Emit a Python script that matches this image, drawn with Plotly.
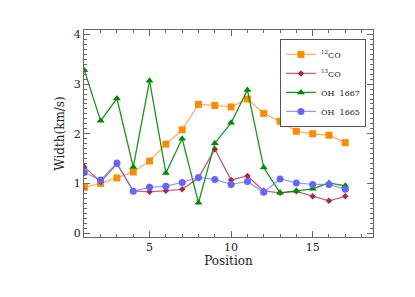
import plotly.graph_objects as go

positions = list(range(1, 18))
co12 = [0.92, 1.00, 1.11, 1.23, 1.45, 1.79, 2.08, 2.59, 2.57, 2.54, 2.70, 2.41, 2.25, 2.05, 2.00, 1.97, 1.82]
co13 = [1.33, 1.03, 1.39, 0.85, 0.83, 0.85, 0.88, 1.11, 1.69, 1.07, 1.15, 0.85, 0.81, 0.84, 0.74, 0.65, 0.74]
oh1667 = [3.28, 2.26, 2.71, 1.33, 3.07, 1.21, 1.90, 0.61, 1.81, 2.22, 2.88, 1.32, 0.81, 0.85, 0.89, 1.01, 0.95]
oh1665 = [1.22, 1.07, 1.41, 0.84, 0.92, 0.94, 1.02, 1.12, 1.08, 0.98, 1.04, 0.82, 1.09, 1.01, 0.98, 0.98, 0.88]

series = [
    ("<sup>12</sup>CO", co12, "#FF8C00", "rgba(255,150,50,0.75)", "square", 7),
    ("<sup>13</sup>CO", co13, "#A8284A", "rgba(176,60,90,0.8)", "diamond", 5),
    ("OH  1667", oh1667, "#008C00", "rgba(0,140,0,0.9)", "triangle-up", 7),
    ("OH  1665", oh1665, "#6464FF", "rgba(110,110,255,0.7)", "circle", 7),
]

fig = go.Figure()
for name, vals, mcol, lcol, sym, sz in series:
    fig.add_trace(go.Scatter(
        x=positions, y=vals, name=name, mode="lines+markers",
        line=dict(color=lcol, width=1.3),
        marker=dict(color=mcol, symbol=sym, size=sz, line=dict(width=0)),
    ))

font = dict(family="DejaVu Serif, Liberation Serif, serif", color="#222", size=11)
axcommon = dict(showline=True, linecolor="#666", linewidth=1, mirror="allticks",
                ticks="inside", tickcolor="#666", ticklen=6, showgrid=False,
                zeroline=False, tickfont=font, automargin=False)
fig.update_xaxes(range=[0.98, 18.7], dtick=5, tick0=0,
                 minor=dict(dtick=1, tick0=0, ticks="inside", ticklen=3, tickcolor="#666"),
                 title=dict(text="Position", font=dict(family=font["family"], size=12, color="#222"), standoff=2),
                 **axcommon)
fig.update_yaxes(range=[-0.08, 4.09], dtick=1, tick0=0,
                 minor=dict(dtick=0.1, tick0=0, ticks="inside", ticklen=3, tickcolor="#666"),
                 title=dict(text="Width(km/s)", font=dict(family=font["family"], size=12, color="#222"), standoff=6),
                 **axcommon)
fig.update_layout(
    width=407, height=289,
    margin=dict(l=76, r=42, t=22, b=60),
    paper_bgcolor="white", plot_bgcolor="white",
    showlegend=True,
    legend=dict(x=0.678, y=0.957, xanchor="left", yanchor="top",
                bordercolor="#555", borderwidth=1, bgcolor="white",
                font=dict(family=font["family"], size=8, color="#222"),
                tracegroupgap=0, itemwidth=30),
    font=font,
)
fig.write_html("out.html")
